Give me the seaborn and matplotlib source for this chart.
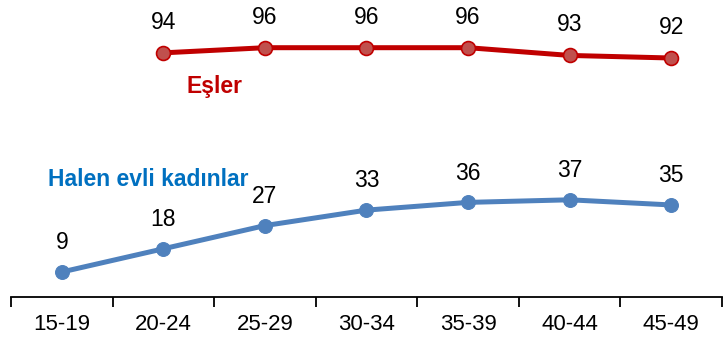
import matplotlib
matplotlib.use("Agg")
import matplotlib.pyplot as plt
import seaborn as sns
import pandas as pd
import numpy as np

age_groups = ["15-19", "20-24", "25-29", "30-34", "35-39", "40-44", "45-49"]
women = [9, 18, 27, 33, 36, 37, 35]
spouses = [None, 94, 96, 96, 96, 93, 92]

sns.set_style("white")
plt.rcParams["font.family"] = ["Liberation Sans", "DejaVu Sans"]

df = pd.DataFrame({
    "pos": np.arange(len(age_groups)),
    "grup": age_groups,
    "kadin": women,
    "es": spouses,
})

fig = plt.figure(figsize=(7.23, 3.41), dpi=100)
ax = fig.add_axes([11 / 723, 44 / 341, 711 / 723, 297 / 341])

blue = "#4F81BD"
red_line = "#C00000"
red_fill = "#C0504D"

sns.lineplot(data=df, x="pos", y="kadin", ax=ax, color=blue, linewidth=3.6,
             marker="o", markersize=10, markeredgecolor=blue, markerfacecolor=blue)
df_es = df.dropna(subset=["es"])
sns.lineplot(data=df_es, x="pos", y="es", ax=ax, color=red_line, linewidth=3.6,
             marker="o", markersize=10, markeredgecolor=red_line,
             markeredgewidth=1.2, markerfacecolor=red_fill)

for x, v in zip(df["pos"], women):
    ax.annotate(str(v), (x, v), textcoords="offset points", xytext=(0, 21),
                ha="center", va="center", fontsize=16.5, color="black")
for x, v in zip(df_es["pos"], df_es["es"]):
    ax.annotate(str(int(v)), (x, v), textcoords="offset points", xytext=(0, 22),
                ha="center", va="center", fontsize=16.5, color="black")

ax.text(1.5, 81, "Eşler", color=red_line, fontsize=16.5, fontweight="bold",
        ha="center", va="center")
ax.text(0.85, 45, "Halen evli kadınlar", color="#0070C0", fontsize=16.5,
        fontweight="bold", ha="center", va="center")

ax.set_xlim(-0.5, 6.5)
ax.set_ylim(-0.7, 114.5)
ax.set_xticks(np.arange(-0.5, 7, 1))
ax.set_xticklabels([])
ax.set_xticks(np.arange(len(age_groups)), minor=True)
ax.set_xticklabels(age_groups, minor=True, fontsize=16, color="black")
ax.tick_params(axis="x", which="major", bottom=True, length=7, width=1.3,
               color="black", direction="out")
ax.tick_params(axis="x", which="minor", bottom=True, length=0, pad=12)
ax.set_yticks([])
ax.set_xlabel("")
ax.set_ylabel("")
for s in ["top", "left", "right"]:
    ax.spines[s].set_visible(False)
ax.spines["bottom"].set_color("black")
ax.spines["bottom"].set_linewidth(1.3)

fig.savefig("out.png", dpi=100)
